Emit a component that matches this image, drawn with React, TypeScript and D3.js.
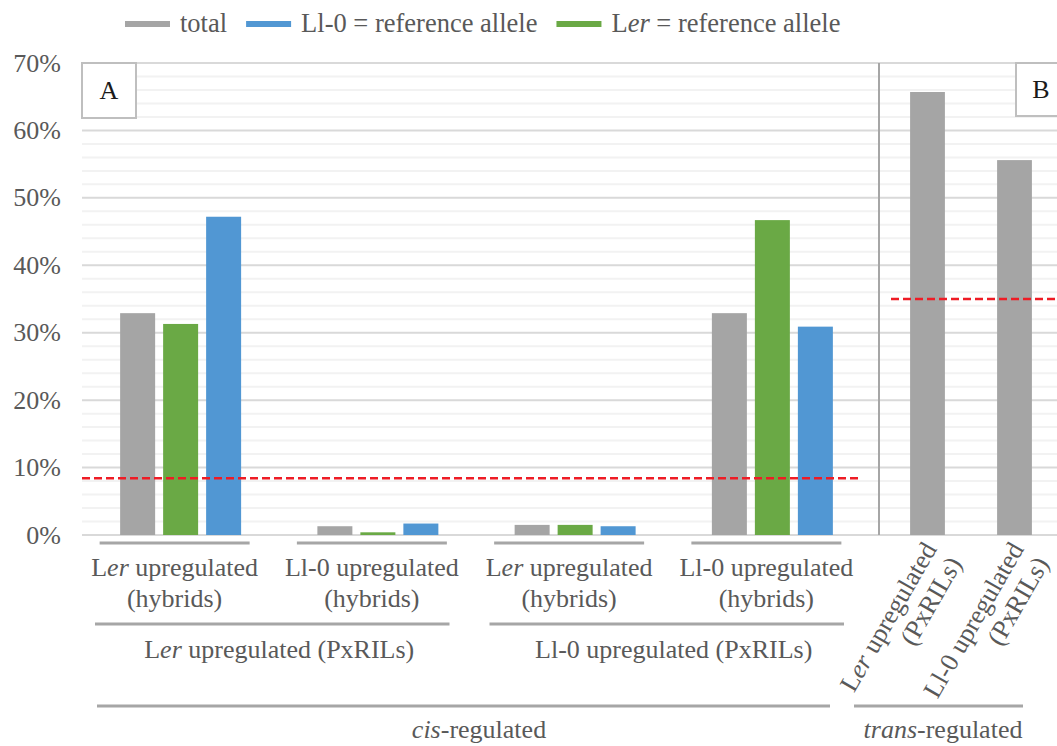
import React from 'react';
import * as d3 from 'd3';

// ---- data ----
const seriesKeys = ['total', 'LerRef', 'L10Ref'];
const seriesColors: Record<string, string> = { total: '#a5a5a5', LerRef: '#6aa945', L10Ref: '#5197d3' };
const cisCategories = ['Ler-hyb|Ler-PxRIL', 'L10-hyb|Ler-PxRIL', 'Ler-hyb|L10-PxRIL', 'L10-hyb|L10-PxRIL'];
const cisTotal = [0.329, 0.013, 0.015, 0.329];
const cisLerRef = [0.313, 0.004, 0.015, 0.467];
const cisL10Ref = [0.472, 0.017, 0.013, 0.309];
const transCategories = ['Ler-PxRIL', 'L10-PxRIL'];
const transTotal = [0.657, 0.556];
const cisThreshold = 0.084;
const transThreshold = 0.35;
const yMax = 0.7;
const majorTicks = [0, 0.1, 0.2, 0.3, 0.4, 0.5, 0.6, 0.7];
const minorTicks = [0.02, 0.04, 0.06, 0.08, 0.12, 0.14, 0.16, 0.18, 0.22, 0.24, 0.26, 0.28, 0.32, 0.34, 0.36, 0.38, 0.42, 0.44, 0.46, 0.48, 0.52, 0.54, 0.56, 0.58, 0.62, 0.64, 0.66, 0.68];

type Seg = { t: string; i?: boolean };
const LER: Seg[] = [{ t: 'L' }, { t: 'er', i: true }];
const cisLabels1: Seg[][][] = [
  [[...LER, { t: ' upregulated' }], [{ t: '(hybrids)' }]],
  [[{ t: 'Ll-0 upregulated' }], [{ t: '(hybrids)' }]],
  [[...LER, { t: ' upregulated' }], [{ t: '(hybrids)' }]],
  [[{ t: 'Ll-0 upregulated' }], [{ t: '(hybrids)' }]],
];
const cisLabels2: Seg[][] = [
  [...LER, { t: ' upregulated (PxRILs)' }],
  [{ t: 'Ll-0 upregulated (PxRILs)' }],
];
const transLabels: Seg[][][] = [
  [[...LER, { t: ' upregulated' }], [{ t: '(PxRILs)' }]],
  [[{ t: 'Ll-0 upregulated' }], [{ t: '(PxRILs)' }]],
];
const cisTitle: Seg[] = [{ t: 'cis', i: true }, { t: '-regulated' }];
const transTitle: Seg[] = [{ t: 'trans', i: true }, { t: '-regulated' }];
const legendItems: { key: string; label: Seg[] }[] = [
  { key: 'total', label: [{ t: 'total' }] },
  { key: 'L10Ref', label: [{ t: 'Ll-0 = reference allele' }] },
  { key: 'LerRef', label: [...LER, { t: ' = reference allele' }] },
];

const FONT = '"Liberation Serif", "Times New Roman", serif';
const FS = 26;
const TXT = '#595959';
const AXIS_GRAY = '#a6a6a6';

function measure(segs: Seg[], fs: number) {
  const c = document.createElement('canvas').getContext('2d')!;
  let w = 0;
  for (const s of segs) {
    c.font = `${s.i ? 'italic ' : ''}${fs}px ${FONT}`;
    w += c.measureText(s.t).width;
  }
  return w;
}

const Rich = ({ segs }: { segs: Seg[] }) => (
  <>
    {segs.map((s, k) => (
      <tspan key={k} fontStyle={s.i ? 'italic' : 'normal'}>{s.t}</tspan>
    ))}
  </>
);

export default function App() {
  const W = 1057, H = 746;
  const y = d3.scaleLinear().domain([0, yMax]).range([535, 63]);
  const plotLeft = 82, plotRight = 1057;
  const xCis = d3.scaleBand<string>().domain(cisCategories).range([82, 871]).paddingInner(0).paddingOuter(0);
  const xCisSub = d3.scaleBand<string>().domain(seriesKeys).range([0, xCis.bandwidth()]).paddingInner(0.186).paddingOuter(0.887);
  const xTrans = d3.scaleBand<string>().domain(transCategories).range([884, 1058]).paddingInner(0.6).paddingOuter(0.3);
  const sepX = 879;
  const LFS = 26.5;

  const cisValues: Record<string, number[]> = { total: cisTotal, LerRef: cisLerRef, L10Ref: cisL10Ref };

  // legend layout
  let lx = 125;
  const legendLayout = legendItems.map((it) => {
    const w = measure(it.label, LFS);
    const o = { ...it, x: lx };
    lx += 45 + 10 + w + 19;
    return o;
  });

  const cisCenter = (i: number) => (xCis(cisCategories[i]) as number) + xCis.bandwidth() / 2;
  const transCenter = (i: number) => (xTrans(transCategories[i]) as number) + xTrans.bandwidth() / 2;

  const row1Y = 543, row2Y = 624, row3Y = 706;

  return (
    <svg width={W} height={H} style={{ display: 'block', position: 'absolute', left: 0, top: 0 }} fontFamily={FONT}>
      <rect width={W} height={H} fill="#ffffff" />
      {/* legend */}
      {legendLayout.map((it) => (
        <g key={it.key}>
          <line x1={it.x} x2={it.x + 45} y1={24} y2={24} stroke={seriesColors[it.key]} strokeWidth={6} />
          <text x={it.x + 55} y={32} fontSize={LFS} fill={TXT}><Rich segs={it.label} /></text>
        </g>
      ))}
      {/* gridlines */}
      {minorTicks.map((t) => (
        <line key={'m' + t} x1={plotLeft} x2={plotRight} y1={y(t)} y2={y(t)} stroke="#f2f2f2" strokeWidth={2} />
      ))}
      {majorTicks.map((t) => (
        <line key={'M' + t} x1={plotLeft} x2={plotRight} y1={y(t)} y2={y(t)} stroke="#d9d9d9" strokeWidth={2} />
      ))}
      {majorTicks.map((t) => (
        <text key={'l' + t} x={61} y={y(t)} dy="0.33em" textAnchor="end" fontSize={FS} fill={TXT}>
          {d3.format('.0%')(t)}
        </text>
      ))}
      {/* separator */}
      <line x1={sepX} x2={sepX} y1={y(yMax)} y2={y(0)} stroke={AXIS_GRAY} strokeWidth={2} />
      {/* cis bars */}
      {cisCategories.map((c, i) => (
        <g key={c} transform={`translate(${xCis(c)},0)`}>
          {seriesKeys.map((s) => (
            <rect key={s} x={xCisSub(s)} width={xCisSub.bandwidth()} y={y(cisValues[s][i])}
              height={y(0) - y(cisValues[s][i])} fill={seriesColors[s]} />
          ))}
        </g>
      ))}
      {/* trans bars */}
      {transCategories.map((c, i) => (
        <rect key={c} x={xTrans(c)} width={xTrans.bandwidth()} y={y(transTotal[i])}
          height={y(0) - y(transTotal[i])} fill={seriesColors.total} />
      ))}
      {/* thresholds */}
      <line x1={plotLeft} x2={860} y1={y(cisThreshold)} y2={y(cisThreshold)} stroke="#ee1c25" strokeWidth={2.5} strokeDasharray="8,4" />
      <line x1={891} x2={plotRight} y1={y(transThreshold)} y2={y(transThreshold)} stroke="#ee1c25" strokeWidth={2.5} strokeDasharray="8,4" />
      {/* panel boxes */}
      <rect x={82} y={63} width={54} height={55} fill="#fff" stroke="#bfbfbf" strokeWidth={2} />
      <text x={109} y={99} textAnchor="middle" fontSize={FS} fill="#1a1a1a">A</text>
      <rect x={1016} y={63} width={50} height={53} fill="#fff" stroke="#bfbfbf" strokeWidth={2} />
      <text x={1041} y={98} textAnchor="middle" fontSize={FS} fill="#1a1a1a">B</text>
      {/* level 1 cis labels */}
      {cisLabels1.map((lines, i) => {
        const cx = cisCenter(i) - 6;
        return (
          <g key={'c1' + i}>
            <line x1={cx - 75} x2={cx + 75} y1={row1Y} y2={row1Y} stroke={AXIS_GRAY} strokeWidth={3} />
            {lines.map((ln, j) => (
              <text key={j} x={cx} y={576 + j * 31} textAnchor="middle" fontSize={FS} fill={TXT}><Rich segs={ln} /></text>
            ))}
          </g>
        );
      })}
      {/* level 2 cis labels */}
      {cisLabels2.map((ln, k) => {
        const a = xCis(cisCategories[2 * k]) as number;
        const b = (xCis(cisCategories[2 * k + 1]) as number) + xCis.bandwidth();
        return (
          <g key={'c2' + k}>
            <line x1={a + 13} x2={b - 27} y1={row2Y} y2={row2Y} stroke={AXIS_GRAY} strokeWidth={3} />
            <text x={(a + b) / 2} y={658} textAnchor="middle" fontSize={FS} fill={TXT}><Rich segs={ln} /></text>
          </g>
        );
      })}
      {/* level 3 */}
      <line x1={xCis.range()[0] + 15} x2={xCis.range()[1] - 41} y1={row3Y} y2={row3Y} stroke={AXIS_GRAY} strokeWidth={3} />
      <text x={479} y={738} textAnchor="middle" fontSize={FS} fill={TXT}><Rich segs={cisTitle} /></text>
      <line x1={xTrans.range()[0] - 30} x2={xTrans.range()[1] - 35} y1={row3Y} y2={row3Y} stroke={AXIS_GRAY} strokeWidth={3} />
      <text x={943} y={738} textAnchor="middle" fontSize={FS} fill={TXT}><Rich segs={transTitle} /></text>
      {/* rotated trans labels */}
      {transLabels.map((lines, i) => (
        <g key={'t' + i} transform={`translate(${transCenter(i) + 10},${549}) rotate(-60)`}>
          {lines.map((ln, j) => (
            <text key={j} x={0} y={j * 29} textAnchor="end" fontSize={FS} fill={TXT}><Rich segs={ln} /></text>
          ))}
        </g>
      ))}
    </svg>
  );
}
